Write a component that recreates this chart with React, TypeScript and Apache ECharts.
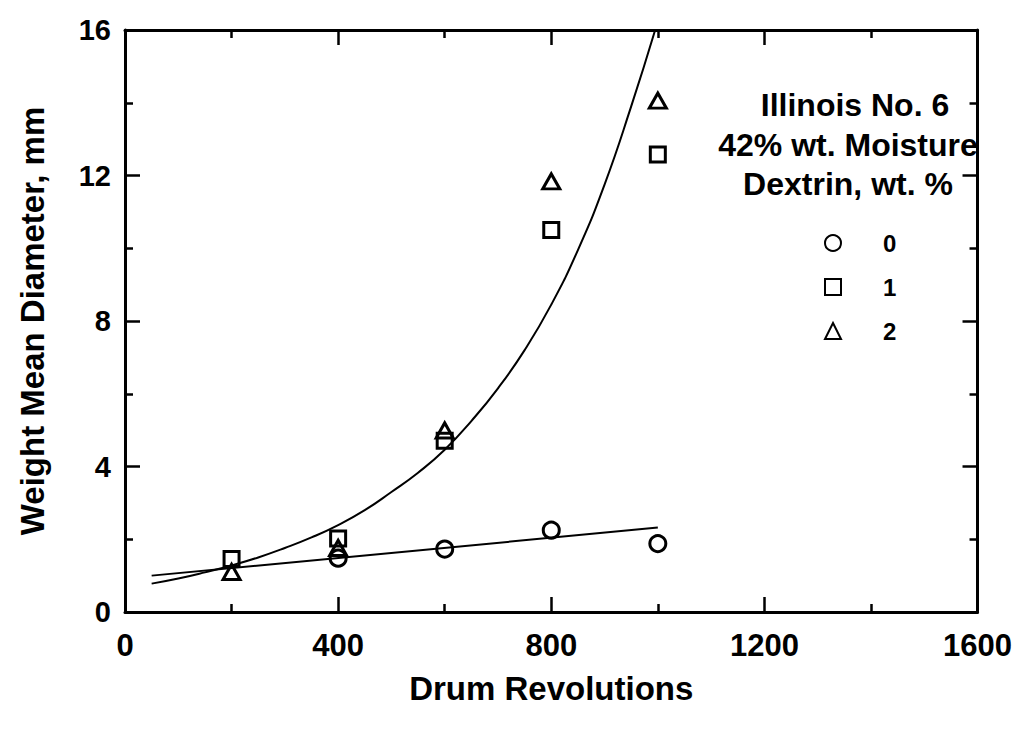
import React, { useEffect, useRef } from "react";
import * as echarts from "echarts";

// ---- data ----
const xTicks = [0, 400, 800, 1200, 1600];
const yTicks = [0, 4, 8, 12, 16];

const dextrin0: [number, number][] = [
  [400, 1.48],
  [600, 1.73],
  [800, 2.25],
  [1000, 1.88],
];
const dextrin1: [number, number][] = [
  [200, 1.46],
  [400, 2.02],
  [600, 4.71],
  [800, 10.5],
  [1000, 12.58],
];
const dextrin2: [number, number][] = [
  [200, 1.1],
  [400, 1.76],
  [600, 4.99],
  [800, 11.84],
  [1000, 14.06],
];
// fitted curves
const expFit: [number, number][] = [
  [50, 0.78],
  [100, 0.92],
  [150, 1.09],
  [200, 1.28],
  [250, 1.5],
  [300, 1.76],
  [350, 2.05],
  [400, 2.39],
  [450, 2.8],
  [500, 3.3],
  [550, 3.83],
  [600, 4.46],
  [650, 5.25],
  [700, 6.15],
  [750, 7.2],
  [800, 8.45],
  [850, 9.95],
  [900, 11.75],
  [950, 13.9],
  [995, 16.0],
];
const linFit: [number, number][] = [
  [50, 1.0],
  [1000, 2.32],
];

const legendNames = ["0", "1", "2"];
const noteLines = ["Illinois No. 6", "42% wt. Moisture", "Dextrin, wt. %"];
const xTitle = "Drum Revolutions";
const yTitle = "Weight Mean Diameter, mm";

const FONT = '"Liberation Sans", Arial, Helvetica, sans-serif';

export default function App() {
  const ref = useRef<HTMLDivElement>(null);

  useEffect(() => {
    if (!ref.current) return;
    const chart = echarts.init(ref.current, undefined, { renderer: "svg" });

    const axisLine = { show: true, onZero: false, lineStyle: { color: "#000", width: 3 } };
    const axisTick = { show: true, inside: true, length: 15, lineStyle: { color: "#000", width: 2.5 } };
    const minorTick = { show: true, splitNumber: 2, length: 8, lineStyle: { color: "#000", width: 2.5 } };

    const markerStyle = {
      color: "rgba(0,0,0,0)",
      borderColor: "#000",
      borderWidth: 3,
      opacity: 1,
    };

    const notePos = [
      [847, 97],
      [840, 137],
      [840, 176],
    ];

    chart.setOption({
      animation: false,
      backgroundColor: "#fff",
      grid: { left: 115, right: 27, top: 22, bottom: 111 },
      xAxis: [
        {
          type: "value",
          position: "bottom",
          min: xTicks[0],
          max: xTicks[xTicks.length - 1],
          interval: 400,
          axisLine,
          axisTick,
          minorTick,
          splitLine: { show: false },
          axisLabel: {
            color: "#000",
            fontSize: 31,
            fontWeight: "bold",
            fontFamily: FONT,
            margin: 18,
            formatter: (v: number) => String(v),
          },
          name: xTitle,
          nameLocation: "middle",
          nameGap: 60,
          nameTextStyle: { color: "#000", fontSize: 33, fontWeight: "bold", fontFamily: FONT },
        },
        {
          type: "value",
          position: "top",
          min: xTicks[0],
          max: xTicks[xTicks.length - 1],
          interval: 400,
          axisLine,
          axisTick,
          minorTick,
          splitLine: { show: false },
          axisLabel: { show: false },
        },
      ],
      yAxis: [
        {
          type: "value",
          position: "left",
          min: yTicks[0],
          max: yTicks[yTicks.length - 1],
          interval: 4,
          axisLine,
          axisTick,
          minorTick,
          splitLine: { show: false },
          axisLabel: {
            color: "#000",
            fontSize: 29,
            fontWeight: "bold",
            fontFamily: FONT,
            margin: 14,
            formatter: (v: number) => String(v),
          },
          name: yTitle,
          nameLocation: "middle",
          nameGap: 76,
          nameRotate: 90,
          nameTextStyle: { color: "#000", fontSize: 33, fontWeight: "bold", fontFamily: FONT },
        },
        {
          type: "value",
          position: "right",
          min: yTicks[0],
          max: yTicks[yTicks.length - 1],
          interval: 4,
          axisLine,
          axisTick,
          minorTick,
          splitLine: { show: false },
          axisLabel: { show: false },
        },
      ],
      legend: {
        data: legendNames,
        orient: "vertical",
        left: 811,
        top: 218,
        itemWidth: 16,
        itemHeight: 16,
        itemGap: 20,
        textStyle: {
          color: "#000",
          fontSize: 24,
          fontWeight: "bold",
          fontFamily: FONT,
          padding: [0, 0, 0, 37],
        },
      },
      graphic: noteLines.map((t, i) => ({
        type: "text",
        x: notePos[i][0],
        y: notePos[i][1],
        style: {
          text: t,
          align: "center",
          verticalAlign: "middle",
          font: `bold 32px ${FONT}`,
          fill: "#000",
        },
      })),
      series: [
        {
          name: "fit-exp",
          type: "line",
          data: expFit,
          smooth: true,
          symbol: "none",
          lineStyle: { color: "#000", width: 2 },
          silent: true,
        },
        {
          name: "fit-lin",
          type: "line",
          data: linFit,
          symbol: "none",
          lineStyle: { color: "#000", width: 2 },
          silent: true,
        },
        {
          name: legendNames[0],
          type: "scatter",
          data: dextrin0,
          symbol: "circle",
          symbolSize: 16,
          itemStyle: markerStyle,
        },
        {
          name: legendNames[1],
          type: "scatter",
          data: dextrin1,
          symbol: "rect",
          symbolSize: 15,
          itemStyle: markerStyle,
        },
        {
          name: legendNames[2],
          type: "scatter",
          data: dextrin2,
          symbol: "triangle",
          symbolSize: [17, 15],
          itemStyle: markerStyle,
        },
      ],
    });

    return () => chart.dispose();
  }, []);

  return <div ref={ref} style={{ width: 1007, height: 715 }} />;
}
